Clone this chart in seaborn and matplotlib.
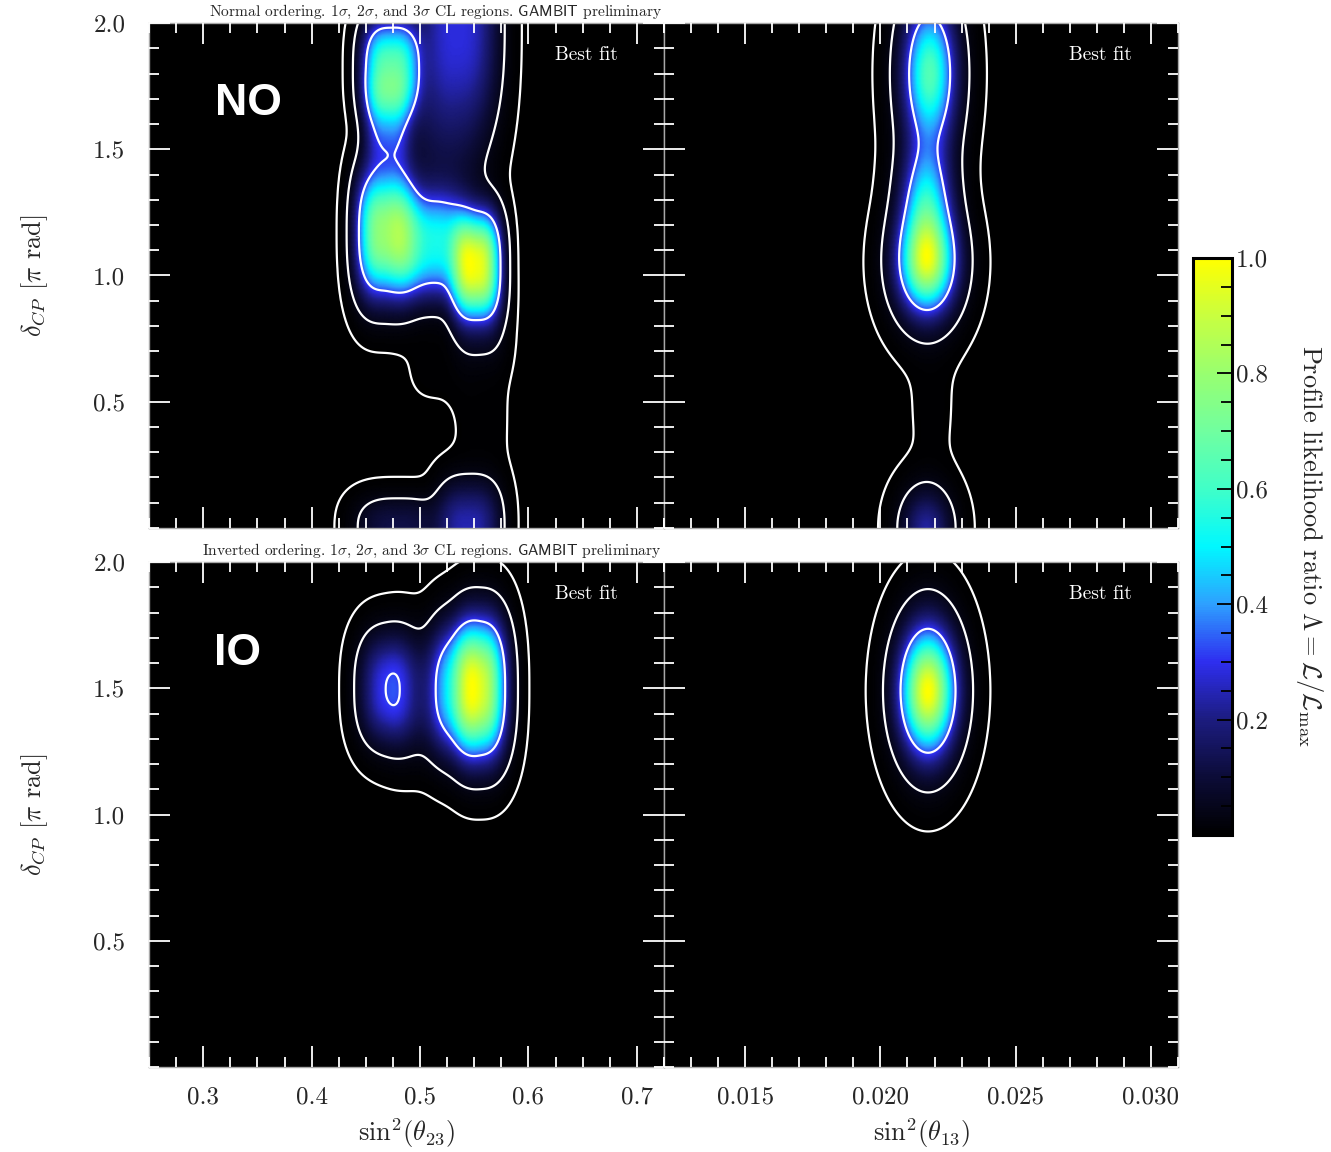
"""Perfil de verossimilhança (NO / IO) em sin²θ23 e sin²θ13 vs δCP."""

import matplotlib.pyplot as plt
import numpy as np
import seaborn as sns
from matplotlib.ticker import FixedLocator, FormatStrFormatter, MultipleLocator

sns.set_theme(style="ticks")
plt.rcParams["font.family"] = ["cmr10", "DejaVu Serif"]
plt.rcParams["mathtext.fontset"] = "cm"
plt.rcParams["axes.formatter.use_mathtext"] = True
plt.rcParams["axes.axisbelow"] = False

# Níveis 1σ, 2σ, 3σ (2 g.l.): Λ = exp(-Δχ²/2)
NIVEIS_CL = [0.0027, 0.0455, 0.3173]

CORES_MAPA = [
    "#000000", "#0c0c38", "#1c1c80", "#2e2ef0", "#2ea0ff", "#00f8ff",
    "#40ffc8", "#70ffa0", "#98ff70", "#c8ff40", "#ffff00",
]

# Componentes: centro (x, δ), amplitude, larguras
NO_T23_X = [0.473, 0.470, 0.468, 0.510, 0.552, 0.535, 0.520, 0.545, 0.480, 0.557, 0.520, 0.556]
NO_T23_D = [1.82, 1.60, 1.17, 1.12, 1.04, 2.00, 1.45, 0.00, 0.00, 0.48, 0.66, 0.80]
NO_T23_A = [0.64, 0.285, 0.78, 0.50, 0.95, 0.28, 0.08, 0.24, 0.12, 0.006, 0.006, 0.04]
NO_T23_SX = [0.020, 0.016, 0.020, 0.022, 0.017, 0.028, 0.030, 0.022, 0.030, 0.020, 0.025, 0.018]
NO_T23_SD = [0.14, 0.13, 0.18, 0.15, 0.15, 0.30, 0.25, 0.13, 0.09, 0.30, 0.12, 0.12]

NO_T13_X = [0.02182, 0.02170, 0.02172, 0.02170, 0.02190]
NO_T13_D = [1.80, 1.30, 1.05, 0.00, 0.50]
NO_T13_A = [0.70, 0.505, 0.95, 0.25, 0.006]
NO_T13_SX = [0.00064, 0.00060, 0.00069, 0.00060, 0.00060]
NO_T13_SD = [0.19, 0.15, 0.13, 0.10, 0.25]

IO_T23_X = [0.556, 0.530, 0.469, 0.495]
IO_T23_D = [1.50, 1.50, 1.50, 1.48]
IO_T23_A = [0.95, 0.40, 0.27, 0.13]
IO_T23_SX = [0.0168, 0.015, 0.018, 0.024]
IO_T23_SD = [0.195, 0.18, 0.15, 0.17]

IO_T13_X = [0.02176]
IO_T13_D = [1.49]
IO_T13_A = [1.0]
IO_T13_SX = [0.00067]
IO_T13_SD = [0.162]

X23_LIM = (0.25, 0.725)
X13_LIM = (0.012, 0.031)
X23_TICKS = [0.3, 0.4, 0.5, 0.6, 0.7]
X13_TICKS = [0.015, 0.020, 0.025, 0.030]
D_TICKS = [0.5, 1.0, 1.5, 2.0]


def _campo(xlim, cx, cd, amp, sx, sd, px, pd, n=400):
    xs = np.linspace(xlim[0], xlim[1], n)
    ds = np.linspace(0.0, 2.0, n)
    xg, dg = np.meshgrid(xs, ds)
    z = np.zeros_like(xg)
    for x0, d0, a, wx, wd in zip(cx, cd, amp, sx, sd):
        z += a * np.exp(
            -0.5 * (np.abs((xg - x0) / wx) ** px + np.abs((dg - d0) / wd) ** pd)
        )
    return xg, dg, z / z.max()


def _painel(ax, xlim, campo, cmap, xticks, xminor, xfmt):
    xg, dg, z = campo
    mesh = ax.pcolormesh(
        xg, dg, z, cmap=cmap, vmin=0, vmax=1, shading="gouraud",
        rasterized=True,
    )
    ax.contour(xg, dg, z, levels=NIVEIS_CL, colors="white", linewidths=1.6)
    ax.set_xlim(*xlim)
    ax.set_ylim(0, 2)
    ax.set_axisbelow(False)
    ax.xaxis.set_major_locator(FixedLocator(xticks))
    ax.xaxis.set_minor_locator(MultipleLocator(xminor))
    ax.xaxis.set_major_formatter(FormatStrFormatter(xfmt))
    ax.yaxis.set_major_locator(FixedLocator(D_TICKS))
    ax.yaxis.set_minor_locator(MultipleLocator(0.1))
    ax.yaxis.set_major_formatter(FormatStrFormatter("%.1f"))
    ax.tick_params(
        which="both", direction="in", color="white", top=True, right=True,
        labelsize=18, width=1.3,
    )
    ax.tick_params(axis="x", pad=14)
    ax.tick_params(axis="y", pad=17)
    ax.tick_params(which="major", length=15)
    ax.tick_params(which="minor", length=7.5)
    for s in ax.spines.values():
        s.set_color("#a8a8a8")
        s.set_linewidth(1.0)
    ax.text(
        0.85, 0.937, "Best fit", transform=ax.transAxes, color="white",
        fontsize=14, ha="center", va="center",
    )
    return mesh


def main() -> None:
    cmap = sns.blend_palette(CORES_MAPA, as_cmap=True)

    fig = plt.figure(figsize=(13.31, 11.52), dpi=100)
    W, H = 1331.0, 1152.0

    def _eixo(x0, y0, x1, y1):
        return fig.add_axes([x0 / W, 1 - y1 / H, (x1 - x0) / W, (y1 - y0) / H])

    ax_no23 = _eixo(149, 23, 664, 528)
    ax_no13 = _eixo(664, 23, 1178, 528)
    ax_io23 = _eixo(149, 562, 664, 1067)
    ax_io13 = _eixo(664, 562, 1178, 1067)

    mesh = _painel(
        ax_no23, X23_LIM,
        _campo(X23_LIM, NO_T23_X, NO_T23_D, NO_T23_A, NO_T23_SX, NO_T23_SD, 3, 2.5),
        cmap, X23_TICKS, 0.025, "%.1f",
    )
    _painel(
        ax_no13, X13_LIM,
        _campo(X13_LIM, NO_T13_X, NO_T13_D, NO_T13_A, NO_T13_SX, NO_T13_SD, 2, 2),
        cmap, X13_TICKS, 0.001, "%.3f",
    )
    _painel(
        ax_io23, X23_LIM,
        _campo(X23_LIM, IO_T23_X, IO_T23_D, IO_T23_A, IO_T23_SX, IO_T23_SD, 2.5, 2.5),
        cmap, X23_TICKS, 0.025, "%.1f",
    )
    _painel(
        ax_io13, X13_LIM,
        _campo(X13_LIM, IO_T13_X, IO_T13_D, IO_T13_A, IO_T13_SX, IO_T13_SD, 2, 2),
        cmap, X13_TICKS, 0.001, "%.3f",
    )

    for ax in (ax_no23, ax_no13):
        ax.tick_params(labelbottom=False)
    for ax in (ax_no13, ax_io13):
        ax.tick_params(labelleft=False)

    ax_no23.text(
        0.193, 0.84, "NO", transform=ax_no23.transAxes, color="white",
        fontsize=32, fontweight="bold", family="Liberation Sans",
        ha="center", va="center",
    )
    ax_io23.text(
        0.171, 0.818, "IO", transform=ax_io23.transAxes, color="white",
        fontsize=32, fontweight="bold", family="Liberation Sans",
        ha="center", va="center",
    )

    tit = r"ordering. $1\sigma$, $2\sigma$, and $3\sigma$ CL regions. $\mathsf{GAMBIT}$ preliminary"
    fig.text(662 / W, 1 - 12 / H, "Normal " + tit, fontsize=11.2, ha="right", va="center")
    fig.text(662 / W, 1 - 551 / H, "Inverted " + tit, fontsize=11.2, ha="right", va="center")

    for yc in (275.5, 814.5):
        fig.text(
            35 / W, 1 - yc / H, r"$\delta_{CP}$ [$\pi$ rad]", fontsize=19,
            rotation=90, ha="center", va="center",
        )
    fig.text(406 / W, 1 - 1133 / H, r"$\mathrm{sin}^2(\theta_{23})$", fontsize=19, ha="center", va="center")
    fig.text(921 / W, 1 - 1133 / H, r"$\mathrm{sin}^2(\theta_{13})$", fontsize=19, ha="center", va="center")

    cax = _eixo(1193, 258, 1232, 835)
    cb = fig.colorbar(mesh, cax=cax)
    cax.set_axisbelow(False)
    cb.set_ticks([0.2, 0.4, 0.6, 0.8, 1.0])
    cb.ax.yaxis.set_major_formatter(FormatStrFormatter("%.1f"))
    cb.ax.yaxis.set_minor_locator(MultipleLocator(0.05))
    cb.ax.tick_params(which="both", direction="in", color="black", width=1.3, labelsize=18, pad=3)
    cb.ax.tick_params(which="major", length=11)
    cb.ax.tick_params(which="minor", length=8)
    cb.outline.set_linewidth(2.2)
    cb.outline.set_edgecolor("black")
    fig.text(
        1310 / W, 1 - 546 / H,
        r"Profile likelihood ratio $\Lambda = \mathcal{L}/\mathcal{L}_\mathrm{max}$",
        fontsize=19, rotation=270, ha="center", va="center",
    )

    fig.savefig("out.png", dpi=100)


if __name__ == "__main__":
    main()
